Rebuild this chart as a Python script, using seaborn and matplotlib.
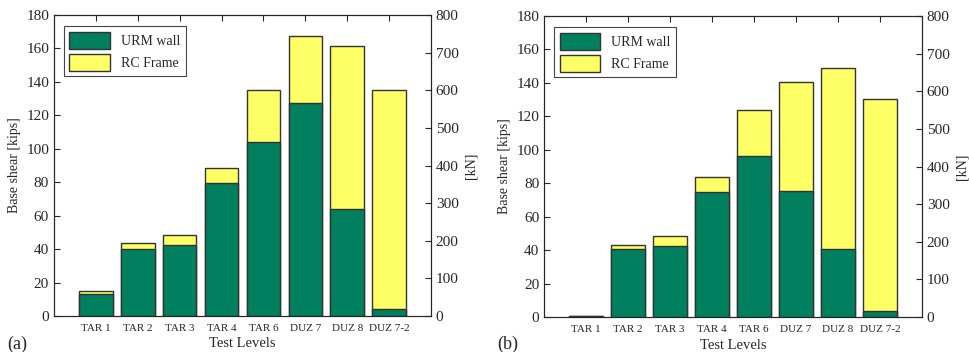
import numpy as np
import pandas as pd
import seaborn as sns
from matplotlib import pyplot as plt
from matplotlib.patches import Patch

sns.set_style("white")
plt.rcParams['font.family'] = ['Liberation Serif', 'DejaVu Serif']

levels = ["TAR 1", "TAR 2", "TAR 3", "TAR 4", "TAR 6", "DUZ 7", "DUZ 8", "DUZ 7-2"]

# base shear in kips
urm_a = [13.4, 40.3, 42.7, 79.4, 104.0, 127.1, 63.9, 4.2]
total_a = [15.0, 43.7, 48.7, 88.6, 134.9, 167.6, 161.6, 134.9]
urm_b = [0.4, 40.9, 42.3, 75.0, 96.2, 75.6, 40.5, 3.8]
total_b = [0.5, 43.3, 48.3, 83.8, 123.5, 140.3, 148.7, 130.1]

kn_ticks = [0, 100, 200, 300, 400, 500, 600, 700, 800]
kips_to_kn = 4.448

green = "#00805f"
yellow = "#ffff66"
edge = "#333333"

fig = plt.figure(figsize=(9.69, 3.52), dpi=100)
axes = [fig.add_axes([0.0557, 0.1023, 0.3891, 0.8550]),
        fig.add_axes([0.5614, 0.0994, 0.3901, 0.8551])]

for ax, urm, total, tag, tagx in zip(axes, [urm_a, urm_b], [total_a, total_b], ["(a)", "(b)"], [0.007, 0.513]):
    df = pd.DataFrame({"level": levels, "urm": urm, "total": total})
    sns.barplot(data=df, x="level", y="total", order=levels, color=yellow, saturation=1,
                edgecolor=edge, linewidth=1, width=0.8, ax=ax)
    sns.barplot(data=df, x="level", y="urm", order=levels, color=green, saturation=1,
                edgecolor=edge, linewidth=1, width=0.8, ax=ax)
    ax.set_xlim(-1, 8)
    ax.set_ylim(0, 180)
    ax.set_yticks(np.arange(0, 181, 20))
    ax.tick_params(axis="y", labelsize=11, direction="in", length=4, right=False)
    ax.tick_params(axis="x", labelsize=8, direction="in", length=4, top=True, pad=6)
    ax.set_xlabel("Test Levels", fontsize=10.5, labelpad=3)
    ax.set_ylabel("Base shear [kips]", fontsize=10)
    for s in ax.spines.values():
        s.set_color("#222222")
        s.set_linewidth(0.8)

    ax2 = ax.twinx()
    ax2.set_ylim(0, 180 * kips_to_kn)
    ax2.set_yticks(kn_ticks)
    ax2.tick_params(axis="y", labelsize=11, direction="in", length=4)
    ax2.set_ylabel("[kN]", fontsize=10, rotation=90, labelpad=4)

    handles = [Patch(facecolor=green, edgecolor=edge, label="URM wall"),
               Patch(facecolor=yellow, edgecolor=edge, label="RC Frame")]
    leg = ax.legend(handles=handles, loc="upper left", fontsize=10, fancybox=False,
                    edgecolor="#444444", framealpha=1, handlelength=2.9, handleheight=1.5,
                    borderpad=0.4, labelspacing=0.35, bbox_to_anchor=(0.008, 0.985))
    leg.get_frame().set_linewidth(0.8)

    fig.text(tagx, 0.01, tag, fontsize=13)

fig.savefig("out.png", dpi=100)
